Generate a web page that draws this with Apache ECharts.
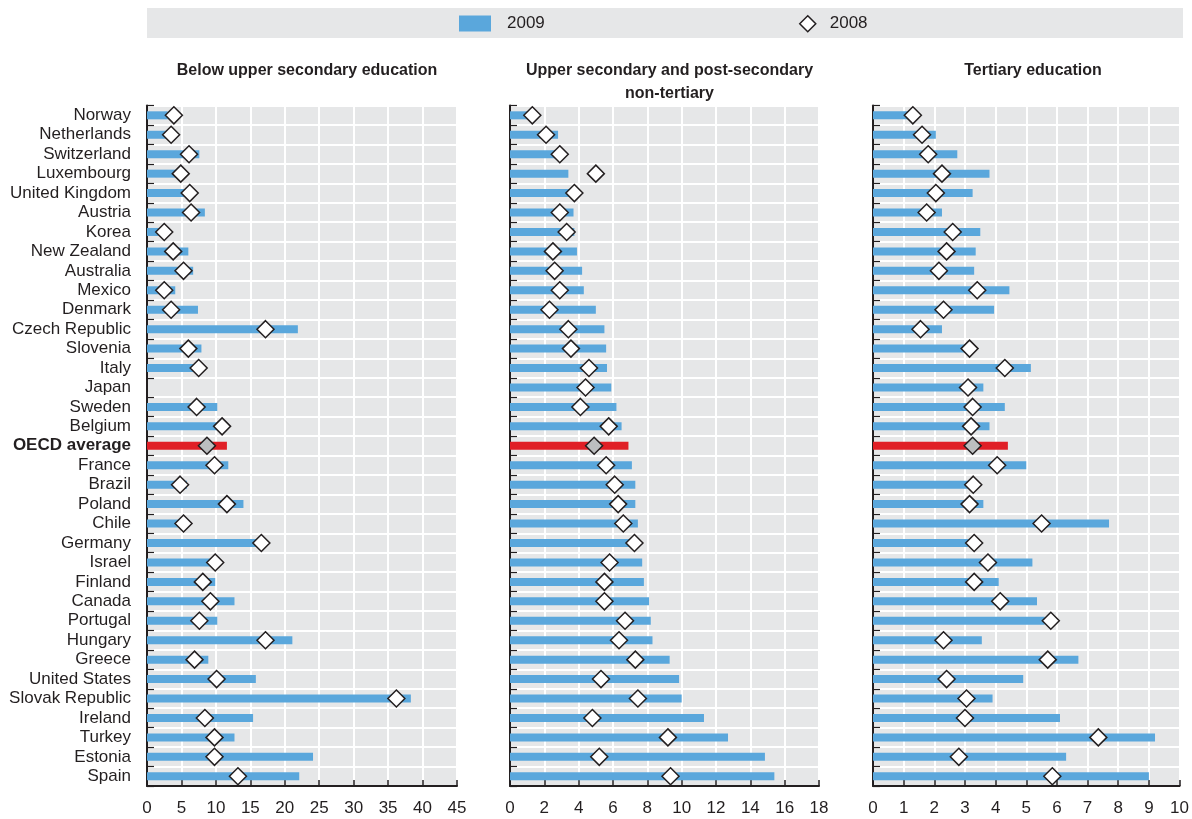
<!DOCTYPE html>
<html>
<head>
<meta charset="utf-8">
<script src="https://cdn.jsdelivr.net/npm/echarts@6/dist/echarts.min.js"></script>
<style>html,body{margin:0;padding:0;background:#fff;}#c{width:1192px;height:819px;}</style>
</head>
<body>
<div id="c"></div>
<script>
const categories = ['Norway','Netherlands','Switzerland','Luxembourg','United Kingdom','Austria','Korea','New Zealand','Australia','Mexico','Denmark','Czech Republic','Slovenia','Italy','Japan','Sweden','Belgium','OECD average','France','Brazil','Poland','Chile','Germany','Israel','Finland','Canada','Portugal','Hungary','Greece','United States','Slovak Republic','Ireland','Turkey','Estonia','Spain'];

const panelTitles = ['Below upper secondary education', 'Upper secondary and post-secondary\nnon-tertiary', 'Tertiary education'];

const below2009 = [3.0, 2.8, 7.6, 4.5, 6.0, 8.4, 1.7, 6.0, 6.7, 4.1, 7.4, 21.9, 7.9, 7.2, null, 10.2, 10.8, 11.6, 11.8, 5.8, 14.0, 5.0, 16.3, 10.0, 9.9, 12.7, 10.2, 21.1, 8.9, 15.8, 38.3, 15.4, 12.7, 24.1, 22.1];
const below2008 = [3.9, 3.5, 6.1, 4.9, 6.2, 6.4, 2.5, 3.8, 5.3, 2.5, 3.5, 17.2, 6.0, 7.5, null, 7.2, 10.9, 8.7, 9.8, 4.8, 11.6, 5.3, 16.6, 9.9, 8.1, 9.2, 7.6, 17.2, 6.9, 10.1, 36.2, 8.4, 9.8, 9.8, 13.2];

const upper2009 = [1.1, 2.8, 3.0, 3.4, 3.6, 3.7, 3.75, 3.9, 4.2, 4.3, 5.0, 5.5, 5.6, 5.65, 5.9, 6.2, 6.5, 6.9, 7.1, 7.3, 7.3, 7.45, 7.55, 7.7, 7.8, 8.1, 8.2, 8.3, 9.3, 9.85, 10.0, 11.3, 12.7, 14.85, 15.4];
const upper2008 = [1.3, 2.1, 2.9, 5.0, 3.75, 2.9, 3.3, 2.5, 2.6, 2.9, 2.3, 3.4, 3.55, 4.6, 4.4, 4.1, 5.75, 4.9, 5.6, 6.1, 6.3, 6.6, 7.25, 5.8, 5.5, 5.5, 6.7, 6.35, 7.3, 5.3, 7.45, 4.8, 9.2, 5.2, 9.35];

const tert2009 = [1.2, 2.05, 2.75, 3.8, 3.25, 2.25, 3.5, 3.35, 3.3, 4.45, 3.95, 2.25, 3.0, 5.15, 3.6, 4.3, 3.8, 4.4, 5.0, 3.1, 3.6, 7.7, 3.1, 5.2, 4.1, 5.35, 5.6, 3.55, 6.7, 4.9, 3.9, 6.1, 9.2, 6.3, 9.0];
const tert2008 = [1.3, 1.6, 1.8, 2.25, 2.05, 1.75, 2.6, 2.4, 2.15, 3.4, 2.3, 1.55, 3.15, 4.3, 3.1, 3.25, 3.2, 3.25, 4.05, 3.27, 3.15, 5.5, 3.3, 3.75, 3.3, 4.15, 5.8, 2.3, 5.7, 2.4, 3.05, 3.0, 7.35, 2.8, 5.85];

const axisMax = [45, 18, 10];
const axisInterval = [5, 2, 1];

const values2009 = [below2009, upper2009, tert2009];
const values2008 = [below2008, upper2008, tert2008];

const FONT = 'Liberation Sans';
const DARK = '#231f20';
const BLUE = '#5aa7dc';
const RED = '#e01f26';
const HIGHLIGHT = 'OECD average';

const gridLayout = [
  {left: 147, width: 310},
  {left: 510, width: 309},
  {left: 873, width: 310}
];

const grids = [], xAxes = [], yAxes = [], series = [], titles = [];
for (let i = 0; i < 3; i++) {
  grids.push({left: gridLayout[i].left, width: gridLayout[i].width, top: 105.6, height: 680.4,
    show: true, backgroundColor: '#e6e7e8', borderWidth: 0});
  titles.push({text: panelTitles[i], left: gridLayout[i].left + gridLayout[i].width / 2, top: 54,
    textAlign: 'center',
    textStyle: {fontFamily: FONT, fontSize: 16, fontWeight: 'bold', color: DARK, lineHeight: 23}});
  xAxes.push({type: 'value', gridIndex: i, min: 0, max: axisMax[i], interval: axisInterval[i],
    axisLine: {show: true, onZero: false, lineStyle: {color: DARK, width: 2}},
    axisTick: {show: true, inside: true, length: 6, lineStyle: {color: DARK, width: 1.5}},
    splitLine: {show: true, lineStyle: {color: '#ffffff', width: 2}},
    axisLabel: {fontFamily: FONT, fontSize: 17, color: DARK, margin: 14, showMaxLabel: true}});
  yAxes.push({type: 'category', gridIndex: i, data: categories, inverse: true,
    axisLine: {show: true, lineStyle: {color: DARK, width: 2}},
    axisTick: {show: true, inside: true, length: 7, interval: 0, lineStyle: {color: DARK, width: 1.2}},
    splitLine: {show: true, interval: 0, lineStyle: {color: '#ffffff', width: 2}},
    axisLabel: {show: i === 0, interval: 0, fontFamily: FONT, fontSize: 17, color: DARK, margin: 16,
      formatter: v => v === HIGHLIGHT ? '{b|' + v + '}' : v,
      rich: {b: {fontFamily: FONT, fontSize: 17, fontWeight: 'bold', color: DARK}}}});
  series.push({type: 'bar', name: '2009', xAxisIndex: i, yAxisIndex: i, barWidth: 8, z: 2,
    itemStyle: {color: BLUE},
    data: values2009[i].map((v, k) => categories[k] === HIGHLIGHT ?
      {value: v, itemStyle: {color: RED}} : (v == null ? '-' : v))});
  const pts = [];
  values2008[i].forEach((v, k) => {
    if (v == null) return;
    const item = {value: [v, categories[k]]};
    if (categories[k] === HIGHLIGHT) item.itemStyle = {color: '#bcbec0'};
    pts.push(item);
  });
  series.push({type: 'scatter', name: '2008', xAxisIndex: i, yAxisIndex: i, symbol: 'diamond',
    symbolSize: 17, z: 5,
    itemStyle: {color: '#ffffff', borderColor: DARK, borderWidth: 1.5, opacity: 1},
    data: pts});
}

const chart = echarts.init(document.getElementById('c'), null, {renderer: 'canvas'});
chart.setOption({
  backgroundColor: '#ffffff',
  animation: false,
  graphic: [{type: 'rect', left: 147, top: 8, shape: {width: 1036, height: 30},
    style: {fill: '#e6e7e8'}, z: -1, silent: true}],
  title: titles,
  legend: [
    {data: [{name: '2009', icon: 'rect'}], left: 459, top: 15, padding: 0, itemWidth: 32, itemHeight: 16,
      textStyle: {fontFamily: FONT, fontSize: 17, color: DARK, padding: [0, 0, 0, 11]},
      selectedMode: false},
    {data: [{name: '2008', icon: 'path://M8,0L16,8L8,16L0,8Z',
      itemStyle: {color: '#ffffff', borderColor: DARK, borderWidth: 1.5}}],
      left: 799, top: 15, padding: 0, itemWidth: 16, itemHeight: 16,
      textStyle: {fontFamily: FONT, fontSize: 17, color: DARK, padding: [0, 0, 0, 9]},
      selectedMode: false}
  ],
  grid: grids,
  xAxis: xAxes,
  yAxis: yAxes,
  series: series
});
</script>
</body>
</html>
